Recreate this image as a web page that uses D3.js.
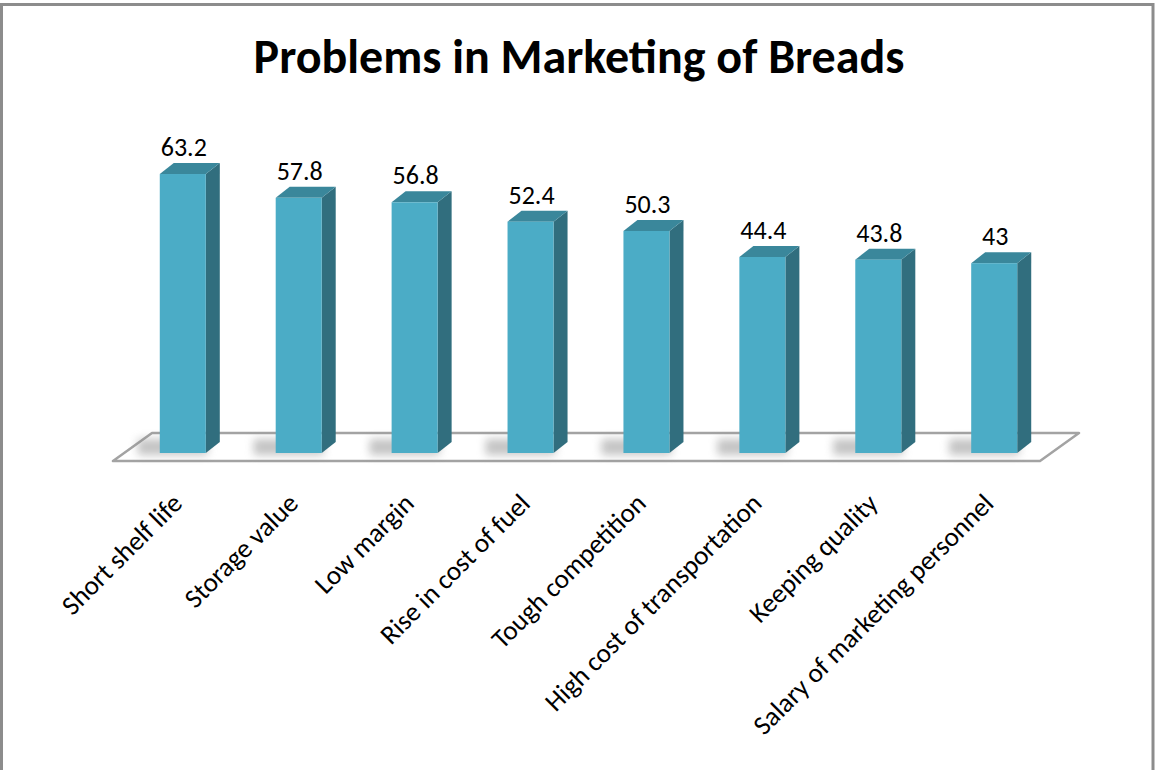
<!DOCTYPE html>
<html><head><meta charset="utf-8">
<script src="https://cdn.jsdelivr.net/npm/d3@7"></script>
<style>body{margin:0;background:#fff}svg{display:block}</style>
</head><body>
<svg id="c" width="1155" height="770"></svg>
<script>
const categories = ["Short shelf life","Storage value","Low margin","Rise in cost of fuel","Tough competition","High cost of transportation","Keeping quality","Salary of marketing personnel"];
const values = [63.2,57.8,56.8,52.4,50.3,44.4,43.8,43];
const valueLabels = ["63.2","57.8","56.8","52.4","50.3","44.4","43.8","43"];
const title = "Problems in Marketing of Breads";

const svg = d3.select("#c");
const font = "Carlito, Lato, 'Open Sans', sans-serif";
const defs = svg.append("defs");
defs.append("filter").attr("id","blur").attr("x","-50%").attr("y","-100%").attr("width","200%").attr("height","300%")
  .append("feGaussianBlur").attr("stdDeviation",4);

// frame
svg.append("rect").attr("x",1.5).attr("y",4.5).attr("width",1151.5).attr("height",780)
  .attr("fill","#fff").attr("stroke","#8c8c8c").attr("stroke-width",3);

const x = d3.scaleBand().domain(categories).range([125,1052]).paddingInner(0.603).paddingOuter(0.3);
const y = d3.scaleLinear().domain([0,70]).range([453,144]);
const dx = 14, dy = -11;

// floor
const fl = {x0:113, x1:1040, y0:461, ddx:39, ddy:-28};
svg.append("path")
  .attr("d",`M${fl.x0},${fl.y0} L${fl.x1},${fl.y0} L${fl.x1+fl.ddx},${fl.y0+fl.ddy} L${fl.x0+fl.ddx},${fl.y0+fl.ddy} Z`)
  .attr("fill","#fff").attr("stroke","#a3a3a3").attr("stroke-width",2.5).attr("stroke-linejoin","round");

const g = svg.append("g");
// shadows
g.selectAll("rect.sh").data(categories).join("rect").attr("class","sh")
  .attr("x",d=>x(d)-22).attr("y",y(0)-14).attr("width",x.bandwidth()+24).attr("height",16)
  .attr("fill","#8a8a8a").attr("opacity",0.5).attr("filter","url(#blur)");

const bars = g.selectAll("g.bar").data(categories.map((c,i)=>({c,v:values[i],l:valueLabels[i]}))).join("g").attr("class","bar");
// side
bars.append("path").attr("d",d=>{const x0=x(d.c)+x.bandwidth(), yt=y(d.v), yb=y(0);
  return `M${x0},${yb} L${x0},${yt} L${x0+dx},${yt+dy} L${x0+dx},${yb+dy} Z`;}).attr("fill","#316e7e");
// top
bars.append("path").attr("d",d=>{const x0=x(d.c), x1=x0+x.bandwidth(), yt=y(d.v);
  return `M${x0},${yt} L${x1},${yt} L${x1+dx},${yt+dy} L${x0+dx},${yt+dy} Z`;}).attr("fill","#3a879b");
// front
bars.append("rect").attr("x",d=>x(d.c)).attr("y",d=>y(d.v)).attr("width",x.bandwidth())
  .attr("height",d=>y(0)-y(d.v)).attr("fill","#4bacc6");
// value labels
bars.append("text").attr("x",d=>x(d.c)+x.bandwidth()/2+1).attr("y",d=>y(d.v)-18)
  .attr("text-anchor","middle").attr("font-family",font).attr("font-size",26).attr("fill","#000").text(d=>d.l);

// category labels
svg.append("g").selectAll("text").data(categories).join("text")
  .attr("transform",d=>`translate(${x(d)+x.bandwidth()/2+1},${505}) rotate(-45)`)
  .attr("text-anchor","end").attr("font-family",font).attr("font-size",27).attr("fill","#000").text(d=>d);

// title
svg.append("text").attr("x",579).attr("y",73).attr("text-anchor","middle")
  .attr("font-family",font).attr("font-weight","bold").attr("font-size",48).attr("fill","#000").text(title);
</script>
</body></html>
